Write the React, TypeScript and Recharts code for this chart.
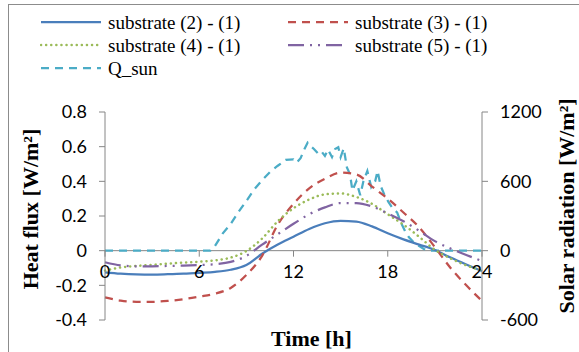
import React from "react";
import { LineChart, Line, XAxis, YAxis, ReferenceLine, ReferenceDot } from "recharts";

// hourly values
const HOURS = [0, 1, 2, 3, 4, 5, 6, 7, 8, 9, 10, 11, 12, 13, 14, 15, 16, 17, 18, 19, 20, 21, 22, 23, 24];
const SUB21 = [-0.125, -0.133, -0.137, -0.138, -0.136, -0.133, -0.128, -0.122, -0.11, -0.083, -0.018, 0.035, 0.08, 0.125, 0.158, 0.172, 0.168, 0.14, 0.1, 0.065, 0.035, 0.004, -0.04, -0.08, -0.118];
const SUB31 = [-0.27, -0.288, -0.295, -0.295, -0.29, -0.28, -0.265, -0.248, -0.215, -0.14, -0.03, 0.15, 0.27, 0.36, 0.415, 0.45, 0.44, 0.37, 0.3, 0.22, 0.135, 0.02, -0.1, -0.2, -0.29];
const SUB41 = [-0.115, -0.097, -0.088, -0.082, -0.075, -0.069, -0.064, -0.056, -0.04, -0.002, 0.07, 0.17, 0.245, 0.295, 0.325, 0.33, 0.31, 0.27, 0.21, 0.15, 0.08, 0.005, -0.045, -0.085, -0.115];
const SUB51 = [-0.067, -0.085, -0.09, -0.09, -0.088, -0.086, -0.083, -0.078, -0.065, -0.03, 0.035, 0.095, 0.155, 0.21, 0.25, 0.275, 0.275, 0.255, 0.215, 0.17, 0.115, 0.055, 0.012, -0.025, -0.06];

// solar radiation, uneven time steps
const QSUN_HOURS = [0, 6.7, 7, 7.5, 8, 8.5, 9, 9.5, 10, 10.5, 11, 11.5, 12, 12.2, 12.45, 12.7, 12.9, 13.1, 13.3, 13.6, 13.8, 14, 14.2, 14.45, 14.65, 14.85, 15, 15.2, 15.4, 15.6, 15.75, 16, 16.25, 16.45, 16.7, 16.95, 17.2, 17.35, 17.55, 17.8, 18.05, 18.3, 18.6, 18.85, 19.1, 19.35, 19.7, 20, 20.3, 20.6, 24];
const QSUN = [0, 0, 40, 150, 230, 335, 430, 530, 610, 680, 735, 785, 790, 762, 800, 880, 935, 905, 880, 835, 855, 820, 875, 810, 880, 895, 810, 885, 720, 660, 520, 600, 480, 600, 690, 550, 600, 690, 560, 480, 420, 370, 330, 240, 170, 115, 65, 40, 15, 0, 0];

const X_TICKS = [0, 6, 12, 18, 24];
const LEFT_TICKS = [-0.4, -0.2, 0, 0.2, 0.4, 0.6, 0.8];
const RIGHT_TICKS = [-600, 0, 600, 1200];

const SERIES = [
  { key: "s21", name: "substrate (2) - (1)", values: SUB21, color: "#4a7ebb", width: 2.25, dash: undefined, cap: "butt" },
  { key: "s31", name: "substrate (3) - (1)", values: SUB31, color: "#c0504d", width: 2.25, dash: "8 6", cap: "butt" },
  { key: "s41", name: "substrate (4) - (1)", values: SUB41, color: "#9bbb59", width: 2.5, dash: "0.1 5", cap: "round" },
  { key: "s51", name: "substrate (5) - (1)", values: SUB51, color: "#8064a2", width: 2.25, dash: "16 6 2 6 2 6", cap: "butt" },
];
const QSUN_STYLE = { name: "Q_sun", color: "#4bacc6", width: 2.25, dash: "8 6", cap: "butt" };

const data = HOURS.map((h, i) => {
  const row: Record<string, number> = { h };
  SERIES.forEach((s) => (row[s.key] = s.values[i]));
  return row;
});
const qsunData = QSUN_HOURS.map((h, i) => ({ h, q: QSUN[i] }));

const AXIS = "#868686";
const TICK_FONT = "Lato, 'Liberation Sans', sans-serif";
const SERIF = "'Liberation Serif', 'Times New Roman', serif";

function LegendItem({ item }: { item: { name: string; color: string; width: number; dash?: string; cap: string } }) {
  return (
    <div style={{ display: "flex", alignItems: "center", height: 22 }}>
      <svg width={62} height={10} style={{ marginRight: 6 }}>
        <line x1={1} y1={5} x2={61} y2={5} stroke={item.color} strokeWidth={item.width} strokeDasharray={item.dash} strokeLinecap={item.cap as any} />
      </svg>
      <span style={{ fontFamily: SERIF, fontSize: 19 }}>{item.name}</span>
    </div>
  );
}

function XTick(props: any) {
  const { cx, cy, value } = props;
  return (
    <g>
      <line x1={cx} y1={cy} x2={cx} y2={cy + 6} stroke={AXIS} strokeWidth={1} />
      <text x={cx} y={cy + 27} textAnchor="middle" fontSize={18} fontFamily={TICK_FONT} fill="#000">
        {value}
      </text>
    </g>
  );
}

export default function App() {
  return (
    <div style={{ position: "relative", width: 579, height: 352, background: "#fff" }}>
      <style>{`html, body { margin: 0; padding: 0; overflow: hidden; }`}</style>
      <div style={{ position: "absolute", left: 8, top: 4, width: 571, height: 348, borderLeft: "1px solid #8c8c8c", borderTop: "1px solid #8c8c8c", boxSizing: "border-box" }} />
      <div style={{ position: "absolute", left: 40, top: 11, color: "#000", lineHeight: 1 }}>
        <div style={{ display: "grid", gridTemplateColumns: "247px auto", rowGap: 1 }}>
          <LegendItem item={SERIES[0]} />
          <LegendItem item={SERIES[1]} />
          <LegendItem item={SERIES[2]} />
          <LegendItem item={SERIES[3]} />
          <LegendItem item={QSUN_STYLE} />
        </div>
      </div>
      <div style={{ position: "absolute", left: 0, top: 0 }}>
        <LineChart width={579} height={352} data={data} margin={{ top: 112, right: 0, bottom: 0, left: 0 }}>
          <XAxis
            type="number"
            dataKey="h"
            domain={[0, 24]}
            ticks={X_TICKS}
            tick={false}
            tickLine={false}
            axisLine={false}
            height={32}
            label={{
              content: (p: any) => (
                <text x={p.viewBox.x + p.viewBox.width / 2 + 18} y={p.viewBox.y + 18} textAnchor="middle" dominantBaseline="central" fontFamily={SERIF} fontWeight="bold" fontSize={22} fill="#000">
                  Time [h]
                </text>
              ),
            }}
          />
          <YAxis
            yAxisId="left"
            domain={[-0.4, 0.8]}
            ticks={LEFT_TICKS}
            width={105}
            stroke={AXIS}
            tickSize={6}
            tickMargin={12}
            tick={{ fill: "#000", fontSize: 18, fontFamily: TICK_FONT }}
            label={{
              content: (p: any) => {
                const x = p.viewBox.x + 30;
                const y = p.viewBox.y + p.viewBox.height / 2 - 7;
                return (
                  <text x={x} y={y} transform={`rotate(-90 ${x} ${y})`} textAnchor="middle" dominantBaseline="central" fontFamily={SERIF} fontWeight="bold" fontSize={22} fill="#000">
                    Heat flux [W/m²]
                  </text>
                );
              },
            }}
          />
          <YAxis
            yAxisId="right"
            orientation="right"
            domain={[-600, 1200]}
            ticks={RIGHT_TICKS}
            width={97}
            stroke={AXIS}
            tickSize={6}
            tickMargin={12}
            tick={{ fill: "#000", fontSize: 18, fontFamily: TICK_FONT }}
            label={{
              content: (p: any) => {
                const x = p.viewBox.x + 84;
                const y = p.viewBox.y + p.viewBox.height / 2 - 10;
                return (
                  <text x={x} y={y} transform={`rotate(-90 ${x} ${y})`} textAnchor="middle" dominantBaseline="central" fontFamily={SERIF} fontWeight="bold" fontSize={22} fill="#000">
                    Solar radiation [W/m²]
                  </text>
                );
              },
            }}
          />
          <ReferenceLine yAxisId="left" y={0} stroke={AXIS} strokeWidth={1} />
          {X_TICKS.map((t) => (
            <ReferenceDot key={t} yAxisId="left" x={t} y={0} shape={(p: any) => <XTick {...p} value={t} />} />
          ))}
          <Line
            yAxisId="right"
            data={qsunData}
            dataKey="q"
            type="linear"
            stroke={QSUN_STYLE.color}
            strokeWidth={QSUN_STYLE.width}
            strokeDasharray={QSUN_STYLE.dash}
            dot={false}
            activeDot={false}
            isAnimationActive={false}
          />
          {SERIES.map((s) => (
            <Line
              key={s.key}
              yAxisId="left"
              dataKey={s.key}
              name={s.name}
              type="monotone"
              stroke={s.color}
              strokeWidth={s.width}
              strokeDasharray={s.dash}
              strokeLinecap={s.cap as any}
              dot={false}
              activeDot={false}
              isAnimationActive={false}
            />
          ))}
        </LineChart>
      </div>
    </div>
  );
}
